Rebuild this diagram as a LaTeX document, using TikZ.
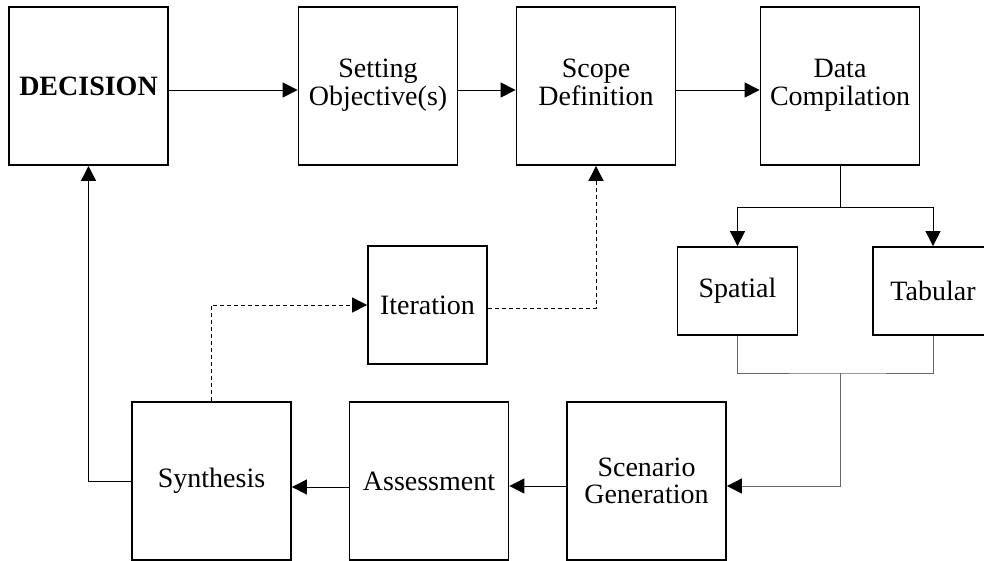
\documentclass[tikz,border=0pt]{standalone}
\usepackage{fontspec}
\setmainfont{Liberation Serif}
\usetikzlibrary{arrows.meta}
\begin{document}
\begin{tikzpicture}[x=1pt,y=-1pt,
  box/.style={draw, line width=1.8pt, minimum width=159pt, minimum height=158pt,
    align=center, inner sep=0pt, font=\fontsize{28}{27}\selectfont},
  smallbox/.style={box, minimum width=120pt, minimum height=88pt},
  tip/.style={-{Triangle[length=15pt,width=15pt,color=black,fill=black]}},
  arr/.style={line width=1pt, tip},
  conn/.style={line width=1pt},
  merge/.style={line width=0.9pt, draw=black!60},
  dashline/.style={line width=1pt, dash pattern=on 4pt off 3pt}]
\useasboundingbox (0,0) rectangle (984,560);
\node[box] (dec) at (88.5,86) {\textbf{DECISION}};
\node[box] (set) at (378,86) {\raisebox{4pt}{\begin{tabular}{@{}c@{}}Setting\\Objective(s)\end{tabular}}};
\node[box] (sco) at (596,86) {\raisebox{4pt}{\begin{tabular}{@{}c@{}}Scope\\Definition\end{tabular}}};
\node[box] (dat) at (840,86) {\raisebox{4pt}{\begin{tabular}{@{}c@{}}Data\\Compilation\end{tabular}}};
\node[smallbox] (spa) at (737.5,291) {Spatial};
\node[smallbox] (tab) at (933,291) {Tabular};
\node[box, minimum width=119pt, minimum height=118pt] (ite) at (427.5,305) {Iteration};
\node[box] (syn) at (211.5,481) {Synthesis};
\node[box] (ass) at (429,481) {Assessment};
\node[box] (sce) at (646.5,481) {Scenario\\Generation};
% top row arrows
\draw[arr] ([yshift=-4pt]dec.east) -- ([yshift=-4pt]set.west);
\draw[arr] ([yshift=-4pt]set.east) -- ([yshift=-4pt]sco.west);
\draw[arr] ([yshift=-4pt]sco.east) -- ([yshift=-4pt]dat.west);
% split
\draw[conn] (dat.south) -- (840,207) coordinate (split);
\draw[arr] (split) -| (spa.north);
\draw[arr] (split) -| (tab.north);
% merge
\coordinate (m) at (840,373);
\draw[merge] (spa.south) |- (m) -| (tab.south);
\draw[merge, tip] (m) |- ([yshift=-5pt]sce.east);
% bottom row
\draw[arr] ([yshift=-5pt]sce.west) -- ([yshift=-5pt]ass.east);
\draw[arr] ([yshift=-6pt]ass.west) -- ([yshift=-6pt]syn.east);
\draw[arr] (syn.west) -| (dec.south);
% iteration loop
\draw[dashline, tip] (syn.north) |- (ite.west);
\draw[dashline, tip] ([yshift=-3pt]ite.east) -| (sco.south);
\end{tikzpicture}
\end{document}
